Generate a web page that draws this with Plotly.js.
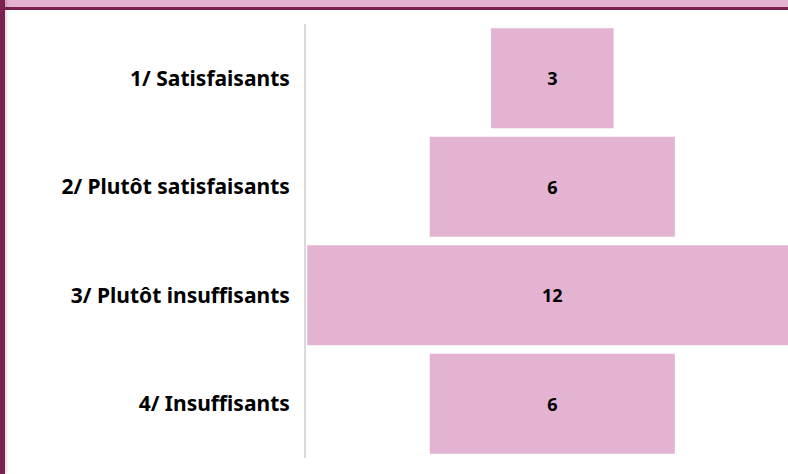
<!DOCTYPE html>
<html>
<head>
<meta charset="utf-8">
<script src="https://cdn.plot.ly/plotly-3.0.1.min.js"></script>
<style>
  html, body { margin: 0; padding: 0; background: #fff; overflow: hidden; }
  #wrap { position: relative; width: 788px; height: 474px; }
  #chart { position: absolute; left: 0; top: 0; width: 788px; height: 474px; }
  .band { position: absolute; left: 0; top: 0; width: 788px; height: 7px; background: #e3b3d0; }
  .band-line { position: absolute; left: 0; top: 7px; width: 788px; height: 3px; background: #7a2150; }
  .side { position: absolute; left: 0; top: 0; width: 5px; height: 474px; background: #7a2150; box-shadow: 2px 0 3px rgba(0,0,0,0.12); }
</style>
</head>
<body>
<div id="wrap">
  <div id="chart"></div>
  <div class="band"></div>
  <div class="band-line"></div>
  <div class="side"></div>
</div>
<script>
  // categories and counts
  const categories = [
    '1/ Satisfaisants',
    '2/ Plutôt satisfaisants',
    '3/ Plutôt insuffisants',
    '4/ Insuffisants'
  ];
  const counts = [3, 6, 12, 6];

  const trace = {
    type: 'funnel',
    y: categories,
    x: counts,
    textinfo: 'value',
    textposition: 'inside',
    insidetextanchor: 'middle',
    textfont: { family: 'Noto Sans, sans-serif', size: 18, color: '#000', weight: 'bold' },
    marker: { color: '#e3b3d1', line: { width: 0 } },
    connector: { visible: false },
    hoverinfo: 'none'
  };

  const layout = {
    width: 788,
    height: 474,
    margin: { l: 306, r: 0, t: 24, b: 16 },
    paper_bgcolor: '#fff',
    plot_bgcolor: '#fff',
    showlegend: false,
    funnelgap: 0.08,
    xaxis: { visible: false, range: [-6.03, 5.77], fixedrange: true },
    yaxis: {
      showline: true,
      linecolor: '#d9d9d9',
      linewidth: 2,
      ticks: '',
      ticklabelstandoff: 10,
      tickfont: { family: 'Noto Sans, sans-serif', size: 21, color: '#000', weight: 'bold' },
      fixedrange: true
    }
  };

  Plotly.newPlot('chart', [trace], layout, { displayModeBar: false, staticPlot: true });
</script>
</body>
</html>
